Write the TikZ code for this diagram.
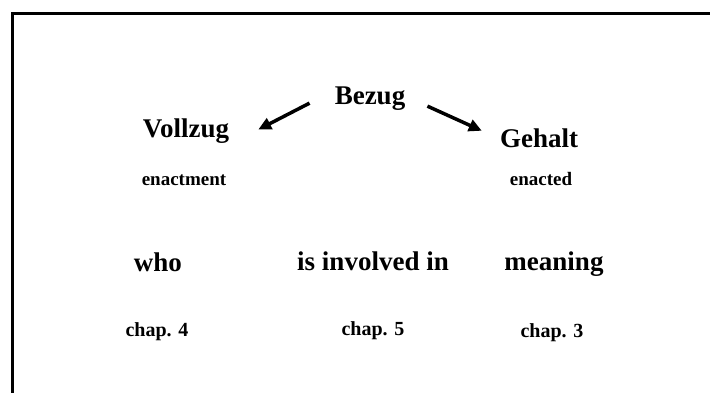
\documentclass[tikz,border=0pt]{standalone}
\usepackage{fontspec}
\setmainfont{Liberation Serif}
\usetikzlibrary{arrows.meta,calc}

\begin{document}
\begin{tikzpicture}[x=1pt,y=-1pt]
  \tikzstyle{big}=[inner sep=0pt,anchor=base,font=\bfseries\fontsize{27}{30}\selectfont]
  \tikzstyle{small}=[inner sep=0pt,anchor=base,font=\bfseries\fontsize{19}{22}\selectfont]
  \tikzstyle{chap}=[inner sep=0pt,anchor=base,font=\bfseries\fontsize{20}{23}\selectfont]
  \tikzstyle{arr}=[line width=3.5pt,-{Triangle[length=13pt,width=12pt]}]
  \useasboundingbox (0,0) rectangle (710,392);
  \draw[line width=3pt] (12,396) -- (12,13) -- (714,13);
  \node[big] (bezug) at (370,104) {Bezug};
  \node[big] (vollzug) at (186,137) {Vollzug};
  \node[big] (gehalt) at (539,147) {Gehalt};
  \node[small] (enactment) at (184,185) {enactment};
  \node[small] (enacted) at (541,185) {enacted};
  \node[big] (who) at (158,271) {who};
  \node[big] (involved) at (373,270) {is involved in};
  \node[big] (meaning) at (554,270) {meaning};
  \node[chap] (chapfour) at (157,336) {chap. 4};
  \node[chap] (chapfive) at (373,335) {chap. 5};
  \node[chap] (chapthree) at (552,337) {chap. 3};
  \draw[arr] ($(bezug.west)+(-25,5)$) -- ($(vollzug.east)+(29,-1)$);
  \draw[arr] ($(bezug.east)+(22,8)$) -- ($(gehalt.west)+(-18,-7)$);
\end{tikzpicture}
\end{document}
